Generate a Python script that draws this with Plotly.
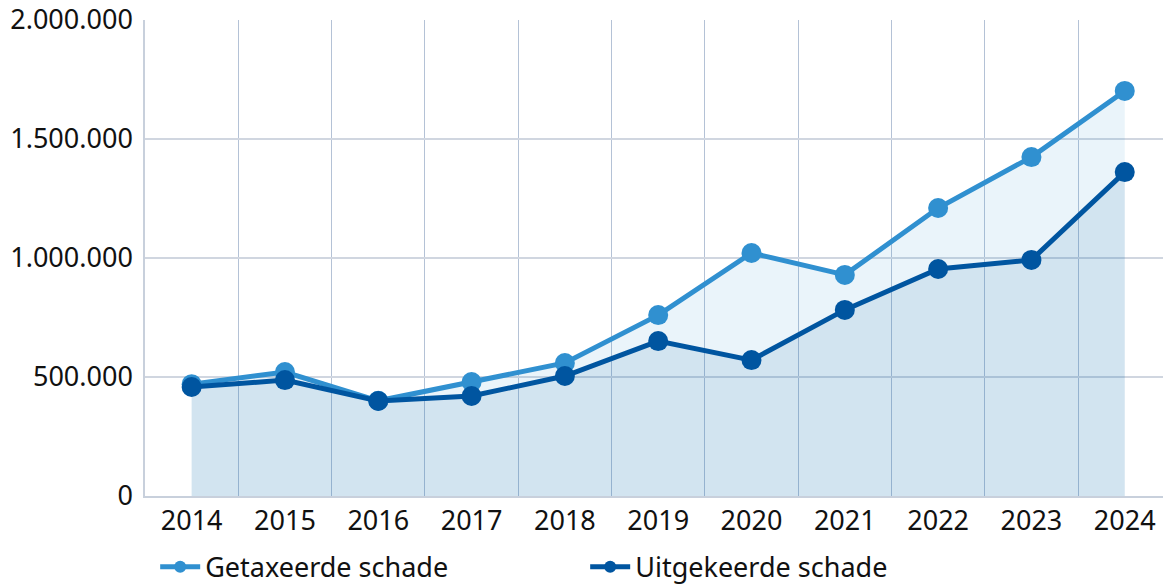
import plotly.graph_objects as go

jaren = ["2014", "2015", "2016", "2017", "2018", "2019", "2020", "2021", "2022", "2023", "2024"]
getaxeerd = [470000, 521000, 400000, 479000, 559000, 760000, 1021000, 929000, 1210000, 1424000, 1702000]
uitgekeerd = [458000, 487000, 399000, 420000, 504000, 651000, 571000, 782000, 954000, 992000, 1361000]

kleur_tax = "rgb(48,144,208)"
kleur_uit = "rgb(0,85,160)"

fig = go.Figure()

# fills first, so both lines sit on top
fig.add_trace(go.Scatter(x=jaren, y=getaxeerd, mode="none", fill="tozeroy",
                         fillcolor="rgba(48,144,208,0.1)", showlegend=False, hoverinfo="skip"))
fig.add_trace(go.Scatter(x=jaren, y=uitgekeerd, mode="none", fill="tozeroy",
                         fillcolor="rgba(0,85,160,0.1)", showlegend=False, hoverinfo="skip"))

fig.add_trace(go.Scatter(x=jaren, y=getaxeerd, mode="lines+markers", name="Getaxeerde schade",
                         line=dict(color=kleur_tax, width=5), marker=dict(size=20, color=kleur_tax)))
fig.add_trace(go.Scatter(x=jaren, y=uitgekeerd, mode="lines+markers", name="Uitgekeerde schade",
                         line=dict(color=kleur_uit, width=5), marker=dict(size=20, color=kleur_uit)))

fig.update_layout(
    width=1164, height=587,
    margin=dict(l=145, r=1, t=20, b=91, autoexpand=False),
    plot_bgcolor="white", paper_bgcolor="white",
    separators=",.",
    font=dict(family="Noto Sans, Open Sans, sans-serif", size=27, color="#111"),
    legend=dict(orientation="h", x=0.01, xanchor="left", y=-0.098, yanchor="top",
                entrywidth=375, entrywidthmode="pixels", font=dict(size=27),
                itemwidth=40, itemsizing="constant"),
)
# the original is slightly cut off at the right edge, so the last year is not fully in view
fig.update_xaxes(type="category", tickson="boundaries", range=[-0.5, 10.41],
                 showgrid=True, gridcolor="#b4c2d6", gridwidth=1,
                 showline=True, linecolor="#c8d0dc", linewidth=1.5,
                 ticks="", ticklabelstandoff=0, automargin=False)
fig.update_yaxes(range=[0, 2000000], dtick=500000, tickformat=",d",
                 showgrid=True, gridcolor="#d0d6e0", gridwidth=1.5,
                 showline=True, linecolor="#c8d0dc", linewidth=1.5,
                 zeroline=False, ticks="", ticklabelstandoff=5, automargin=False)

fig.write_html("out.html", config={"displayModeBar": False},
               post_script="document.body.style.margin='0';")
